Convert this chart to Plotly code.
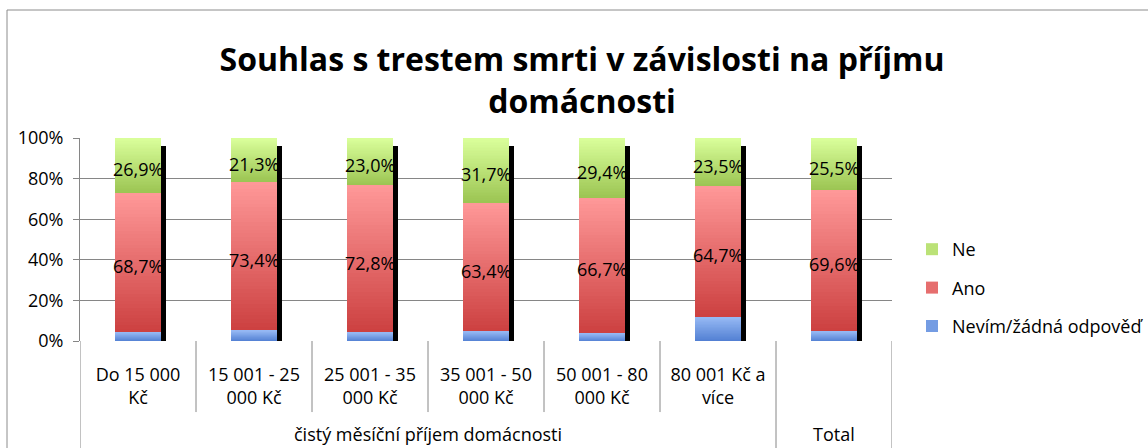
import plotly.graph_objects as go

# ---- data ----
categories = ["Do 15 000<br>Kč", "15 001 - 25<br>000 Kč", "25 001 - 35<br>000 Kč",
              "35 001 - 50<br>000 Kč", "50 001 - 80<br>000 Kč", "80 001 Kč a<br>více", ""]
group_labels = ["čistý měsíční příjem domácnosti", "Total"]
group_sizes = [6, 1]
ne = [26.9, 21.3, 23.0, 31.7, 29.4, 23.5, 25.5]
ano = [68.7, 73.4, 72.8, 63.4, 66.7, 64.7, 69.6]
nevim = [round(100 - a - b, 1) for a, b in zip(ne, ano)]
series_names = ["Nevím/žádná odpověď", "Ano", "Ne"]
series_values = [nevim, ano, ne]
show_labels = [False, True, True]
# gradient colours (bottom, top)
grad = [((80, 126, 210), (150, 185, 244)),
        ((204, 64, 64), (255, 153, 153)),
        ((155, 196, 82), (218, 255, 155))]
y_ticks = [0, 20, 40, 60, 80, 100]
y_ticktext = ["%d%%" % v for v in y_ticks]

FONT = "Open Sans"
GRID = "#868686"
n = len(categories)
xs = list(range(n))
BAR_W = 0.405
SHIFT = 0.043
N_SLICES = 40

fig = go.Figure()

# drop shadow behind each column
fig.add_trace(go.Bar(
    x=xs, y=[100 - 2] * n, base=[-2] * n, width=BAR_W,
    offset=-BAR_W / 2 + SHIFT, marker=dict(color="black", line=dict(width=0)),
    showlegend=False, hoverinfo="skip"))

legend_rank = {"Ne": 1, "Ano": 2, "Nevím/žádná odpověď": 3}
annotations = []
cum = [0.0] * n
for s, (name, vals) in enumerate(zip(series_names, series_values)):
    (b0, b1) = grad[s]
    for i in range(N_SLICES):
        t = (i + 0.5) / N_SLICES
        col = "rgb(%d,%d,%d)" % tuple(round(b0[k] + (b1[k] - b0[k]) * t) for k in range(3))
        mid = i == N_SLICES // 2
        fig.add_trace(go.Bar(
            x=xs, y=[v / N_SLICES for v in vals],
            base=[c + v * i / N_SLICES for c, v in zip(cum, vals)],
            width=BAR_W, offset=-BAR_W / 2,
            marker=dict(color=col, line=dict(width=0)),
            name=name, legendgroup=name, showlegend=mid,
            legendrank=legend_rank[name], hoverinfo="skip"))
    if show_labels[s]:
        for x, c, v in zip(xs, cum, vals):
            annotations.append(dict(
                x=x, y=c + v / 2, xref="x", yref="y", showarrow=False,
                text=("%.1f" % v).replace(".", ",") + "%", yshift=-4,
                font=dict(family=FONT, size=18, color="black")))
    cum = [c + v for c, v in zip(cum, vals)]

# category separators (multi-level axis table)
shapes = []
bounds = [k - 0.5 for k in range(n + 1)]
group_edges = [-0.5]
for g in group_sizes:
    group_edges.append(group_edges[-1] + g)
for bx in bounds:
    outer = any(abs(bx - ge) < 1e-9 for ge in group_edges)
    shapes.append(dict(type="line", xref="x", yref="paper", x0=bx, x1=bx,
                       y0=0, y1=-0.7 if outer else -0.35,
                       line=dict(color=GRID, width=1)))
# outer chart frame
shapes.append(dict(type="rect", xref="paper", yref="paper",
                   x0=(7 - 80) / 812, x1=1.5, y0=-0.8, y1=(341 - 10) / 203,
                   line=dict(color="#8c8c8c", width=1), layer="below"))

for gl, a, b in zip(group_labels, group_edges[:-1], group_edges[1:]):
    annotations.append(dict(x=(a + b) / 2, y=(341 - 420) / 203, xref="x", yref="paper",
                            text=gl, showarrow=False, yanchor="top",
                            font=dict(family=FONT, size=18, color="black")))

fig.update_layout(
    width=1148, height=448,
    margin=dict(l=80, r=256, t=138, b=107, autoexpand=False),
    paper_bgcolor="white", plot_bgcolor="white",
    barmode="overlay",
    bargap=0,
    title=dict(text="Souhlas s trestem smrti v závislosti na příjmu<br>domácnosti",
               x=582 / 1148, xanchor="center", y=1 - 71 / 448, yanchor="middle",
               yref="container",
               font=dict(family=FONT, size=32, color="black", weight="bold")),
    xaxis=dict(range=[-0.5, n - 0.5], tickvals=xs, ticktext=categories,
               showgrid=False, zeroline=False, showline=False, ticks="",
               ticklabelstandoff=21,
               tickfont=dict(family=FONT, size=18, color="black")),
    yaxis=dict(range=[0, 100], tickvals=y_ticks, ticktext=y_ticktext,
               showgrid=True, gridcolor=GRID, gridwidth=1,
               zeroline=False, showline=True, linecolor=GRID, linewidth=1,
               ticks="outside", ticklen=6, tickcolor=GRID,
               ticklabelstandoff=6,
               tickfont=dict(family=FONT, size=18, color="black")),
    legend=dict(x=(912 - 80) / 812, xanchor="left", y=(341 - 231) / 203, yanchor="top",
                traceorder="grouped", tracegroupgap=12,
                font=dict(family=FONT, size=18, color="black"),
                bgcolor="rgba(0,0,0,0)"),
    shapes=shapes, annotations=annotations,
    showlegend=True,
)

fig.write_html("out.html", config={"displayModeBar": False},
               post_script="document.body.style.margin='0px';")
